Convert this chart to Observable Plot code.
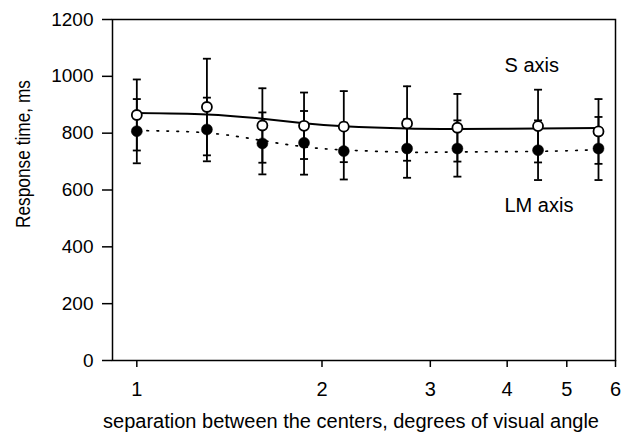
<!DOCTYPE html>
<html><head><meta charset="utf-8">
<script src="https://cdn.jsdelivr.net/npm/d3@7"></script>
<script src="https://cdn.jsdelivr.net/npm/@observablehq/plot@0.6"></script>
<style>body{margin:0;background:#fff}</style>
</head><body><div id="chart"></div>
<script>
// separation between centers (deg)
const separation = [1, 1.3, 1.6, 1.87, 2.17, 2.75, 3.32, 4.49, 5.63];
// S axis (open circles)
const sMean = [864, 892, 827, 826, 823, 834, 819, 825, 806];
const sErr  = [125, 170, 131, 117, 125, 131, 119, 128, 114];
const sFit  = [871, 866, 851, 835, 824, 816, 815, 816, 818];
// LM axis (filled circles)
const lmMean = [807, 813, 764, 766, 737, 746, 746, 740, 746];
const lmErr  = [113, 112, 109, 112, 100, 103, 99, 105, 111];
const lmFit  = [809, 801, 774, 752, 741, 733, 734, 736, 742];
const xTicks = [1, 2, 3, 4, 5, 6];
const yTicks = [0, 200, 400, 600, 800, 1000, 1200];
const seriesNames = ["S axis", "LM axis"];
const xTitle = "separation between the centers, degrees of visual angle";
const yTitle = "Response time, ms";

const rows = separation.map((x, i) => ({
  x, s: sMean[i], sErr: sErr[i], sFit: sFit[i],
  lm: lmMean[i], lmErr: lmErr[i], lmFit: lmFit[i]
}));
const cap = {draw(ctx) { ctx.moveTo(-4, 0); ctx.lineTo(4, 0); }};
const font = "'Liberation Sans', Arial, Helvetica, sans-serif";
const sw = 1.8;

const chart = Plot.plot({
  width: 629, height: 438,
  marginLeft: 112, marginRight: 14, marginTop: 19, marginBottom: 78,
  style: {fontFamily: font, fontSize: "19px", color: "#000", background: "#fff"},
  x: {type: "log", domain: [0.913, 6]},
  y: {domain: [0, 1200]},
  marks: [
    Plot.frame({stroke: "#000", strokeWidth: 1.5}),
    Plot.axisY({ticks: yTicks, tickSize: 10, tickPadding: 9, tickFormat: d => String(d), label: null, strokeWidth: 1.5, fontSize: 19}),
    Plot.axisX({ticks: xTicks, tickSize: 7, tickPadding: 14, tickFormat: d => String(d), label: null, strokeWidth: 1.5, fontSize: 20}),
    // LM error bars
    Plot.ruleX(rows, {x: "x", y1: d => d.lm - d.lmErr, y2: d => d.lm + d.lmErr, stroke: "#000", strokeWidth: sw}),
    Plot.dot(rows, {x: "x", y: d => d.lm - d.lmErr, symbol: cap, fill: "none", stroke: "#000", strokeWidth: sw}),
    Plot.dot(rows, {x: "x", y: d => d.lm + d.lmErr, symbol: cap, fill: "none", stroke: "#000", strokeWidth: sw}),
    // S error bars
    Plot.ruleX(rows, {x: "x", y1: d => d.s - d.sErr, y2: d => d.s + d.sErr, stroke: "#000", strokeWidth: sw}),
    Plot.dot(rows, {x: "x", y: d => d.s - d.sErr, symbol: cap, fill: "none", stroke: "#000", strokeWidth: sw}),
    Plot.dot(rows, {x: "x", y: d => d.s + d.sErr, symbol: cap, fill: "none", stroke: "#000", strokeWidth: sw}),
    // fitted curves
    Plot.line(rows, {x: "x", y: "lmFit", curve: "natural", stroke: "#000", strokeWidth: 1.7, strokeDasharray: "1.6,8.4"}),
    Plot.line(rows, {x: "x", y: "sFit", curve: "natural", stroke: "#000", strokeWidth: 2}),
    // points
    Plot.dot(rows, {x: "x", y: "lm", r: 5.5, fill: "#000", stroke: "#000", strokeWidth: 0.5}),
    Plot.dot(rows, {x: "x", y: "s", r: 5, fill: "#fff", stroke: "#000", strokeWidth: 1.8}),
    // series labels
    Plot.text([seriesNames[0]], {text: d => d, frameAnchor: "top-right", textAnchor: "start", lineAnchor: "middle", dx: -111, dy: 46, fontSize: 20}),
    Plot.text([seriesNames[1]], {text: d => d, frameAnchor: "top-right", textAnchor: "start", lineAnchor: "middle", dx: -111, dy: 186, fontSize: 20}),
    // axis titles
    Plot.text([xTitle], {text: d => d, frameAnchor: "bottom", textAnchor: "middle", lineAnchor: "middle", dx: -13, dy: 61, fontSize: 20}),
    Plot.text([yTitle], {className: "ytitle", text: d => d, frameAnchor: "left", textAnchor: "middle", lineAnchor: "middle", rotate: -90, dx: -89, dy: -36, fontSize: 19.5})
  ]
});
d3.select(chart).selectAll(".ytitle text").attr("textLength", 148).attr("lengthAdjust", "spacingAndGlyphs");
document.getElementById("chart").appendChild(chart);
</script>
</body></html>
